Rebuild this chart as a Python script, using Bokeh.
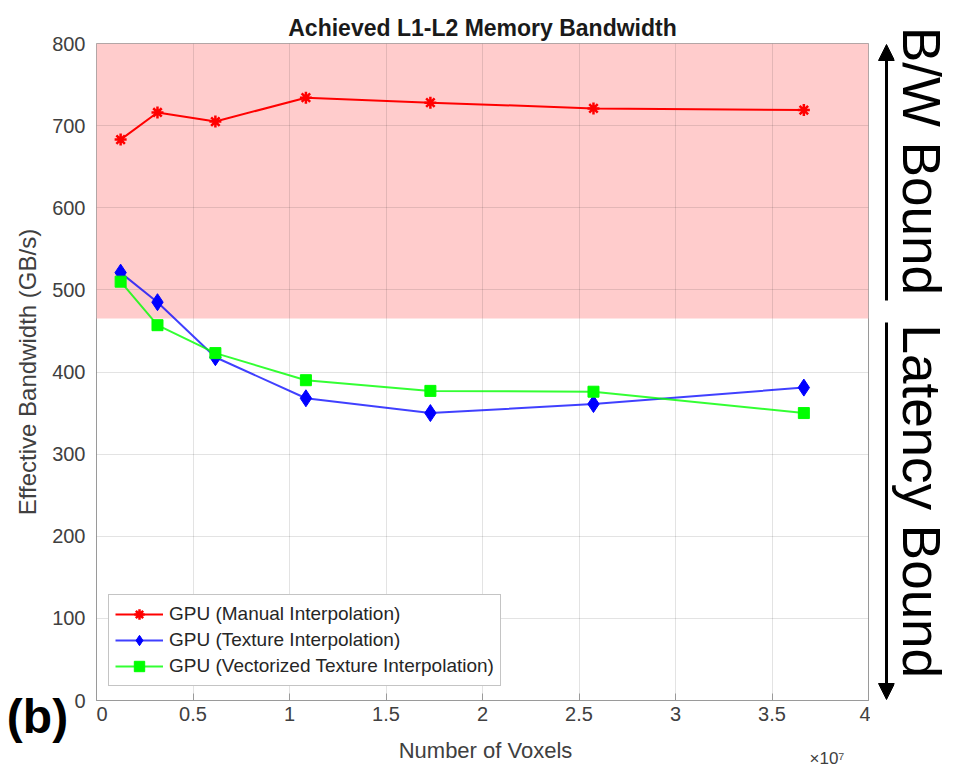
import math
from bokeh.plotting import figure
from bokeh.layouts import row
from bokeh.models import (BoxAnnotation, Label, Arrow, NormalHead, Range1d,
                          FixedTicker, Grid)
from bokeh.embed import file_html
from bokeh.resources import INLINE

# ---- data ----
voxels = [1.25e6, 3.16e6, 6.16e6, 1.085e7, 1.73e7, 2.575e7, 3.665e7]
manual = [683, 716, 705, 734, 728, 721, 719]
texture = [521, 485, 418, 368, 350, 361, 381]
vectorized = [510, 457, 423, 390, 377, 376, 350]
bw_threshold = 465
series_labels = ["GPU (Manual Interpolation)", "GPU (Texture Interpolation)",
                 "GPU (Vectorized Texture Interpolation)"]
x_ticks = [0, 5e6, 1e7, 1.5e7, 2e7, 2.5e7, 3e7, 3.5e7, 4e7]
x_tick_labels = {0: "0", 5e6: "0.5", 1e7: "1", 1.5e7: "1.5", 2e7: "2",
                 2.5e7: "2.5", 3e7: "3", 3.5e7: "3.5", 4e7: "4"}
y_ticks = [0, 100, 200, 300, 400, 500, 600, 700, 800]
regime_labels = ["B/W Bound", "Latency Bound"]

FONT = "Liberation Sans"
AX = "#9a9a9a"
TXT = "#404040"
H = 771

yr = Range1d(0, 800)

# ---------------- left strip: y axis, y label, "(b)" ----------------
L = figure(width=96, height=H, output_backend="svg", toolbar_location=None,
           x_range=Range1d(0, 1), y_range=yr, x_axis_location=None,
           min_border_left=95, min_border_right=0, min_border_top=43,
           min_border_bottom=71, outline_line_color=None)
for g in L.select(type=Grid):
    g.visible = False
ya = L.yaxis[0]
ya.ticker = FixedTicker(ticks=y_ticks)
ya.axis_line_color = None
ya.major_tick_out = 0
ya.major_tick_in = 0
ya.minor_tick_line_color = None
ya.major_label_text_font = FONT
ya.major_label_text_font_size = "20px"
ya.major_label_text_color = TXT
ya.major_label_standoff = 10
ya.axis_label = "Effective Bandwidth (GB/s)"
ya.axis_label_text_font = FONT
ya.axis_label_text_font_size = "24px"
ya.axis_label_text_font_style = "normal"
ya.axis_label_text_color = TXT
ya.axis_label_standoff = 8
L.add_layout(Label(x=37, y=716, x_units="canvas", y_units="canvas", text="(b)",
                   text_align="center", text_baseline="middle", text_font=FONT,
                   text_font_size="48px", text_font_style="bold",
                   text_color="black"), "below")

# ---------------- main plot ----------------
p = figure(width=774, height=H, output_backend="svg", toolbar_location=None,
           x_range=Range1d(0, 4e7), y_range=yr, y_axis_location=None,
           min_border_left=0, min_border_right=2, min_border_top=43,
           min_border_bottom=71)
p.title.text = "Achieved L1-L2 Memory Bandwidth"
p.title.align = "center"
p.title.text_font = FONT
p.title.text_font_size = "23px"
p.title.text_font_style = "bold"
p.title.text_color = "#1a1a1a"
p.title.standoff = 6
p.outline_line_color = AX

box = BoxAnnotation(bottom=bw_threshold, fill_color="#ffcccc", fill_alpha=1.0,
                    line_color=None, level="image")
p.add_layout(box)

xa = p.xaxis[0]
xa.ticker = FixedTicker(ticks=x_ticks)
xa.major_label_overrides = x_tick_labels
xa.axis_line_color = AX
xa.major_tick_line_color = AX
xa.major_tick_in = 7
xa.major_tick_out = 0
xa.minor_tick_line_color = None
xa.major_label_text_font = FONT
xa.major_label_text_font_size = "20px"
xa.major_label_text_color = TXT
xa.major_label_standoff = 6

ygrids = [g for g in p.select(type=Grid) if g.dimension == 1]
if ygrids:
    for g in ygrids:
        g.ticker = FixedTicker(ticks=y_ticks)
else:
    g = Grid(dimension=1, ticker=FixedTicker(ticks=y_ticks))
    p.add_layout(g)
    ygrids = [g]
p.xgrid.ticker = FixedTicker(ticks=x_ticks)
for g in list(p.xgrid) + ygrids:
    g.grid_line_color = "#262626"
    g.grid_line_alpha = 0.13

p.line(voxels, manual, line_color="#ff0000", line_width=2,
       legend_label=series_labels[0])
p.scatter(voxels, manual, marker="asterisk", size=12, line_color="#ff0000",
          line_width=2.5, legend_label=series_labels[0])
p.line(voxels, texture, line_color="#0000ff", line_width=2, line_alpha=0.75,
       legend_label=series_labels[1])
p.scatter(voxels, texture, marker="diamond", size=17, fill_color="#0000ff",
          line_color="#0000ff", legend_label=series_labels[1])
p.line(voxels, vectorized, line_color="#00ff00", line_width=2, line_alpha=0.8,
       legend_label=series_labels[2])
p.scatter(voxels, vectorized, marker="square", size=11, fill_color="#00ff00",
          line_color="#00ff00", legend_label=series_labels[2])

lg = p.legend[0]
lg.location = (12, 14)
lg.label_text_font = FONT
lg.label_text_font_size = "19px"
lg.label_text_color = "#262626"
lg.border_line_color = "#8a8a8a"
lg.border_line_width = 1
lg.background_fill_alpha = 1.0
lg.padding = 6
lg.spacing = 0
lg.glyph_width = 48
lg.glyph_height = 26
lg.label_height = 26
lg.label_standoff = 6
lg.margin = 0

# texts below the x axis (canvas px of this figure: page x - 96)
p.add_layout(Label(x=389, y=750, x_units="canvas", y_units="canvas",
                   text="Number of Voxels", text_align="center",
                   text_baseline="middle", text_font=FONT,
                   text_font_size="22px", text_color=TXT), "below")
p.add_layout(Label(x=713, y=758, x_units="canvas", y_units="canvas",
                   text="×10⁷", text_align="left", text_baseline="alphabetic",
                   text_font=FONT, text_font_size="17px", text_color=TXT),
             "below")

# ---------------- right strip: arrows and regime labels ----------------
# frame of this strip is aligned with the main frame (page y 43..700);
# arrows use screen units relative to the strip's frame (left = page x 870,
# bottom = page y 700)
R = figure(width=83, height=H, output_backend="svg", toolbar_location=None,
           x_range=Range1d(0, 1), y_range=Range1d(0, 1),
           x_axis_location=None, y_axis_location=None, min_border_left=0,
           min_border_right=0, min_border_top=43, min_border_bottom=71,
           outline_line_color=None)
for g in R.select(type=Grid):
    g.visible = False
R.add_layout(Arrow(x_start=16, y_start=400, x_end=16, y_end=656,
                   start_units="screen", end_units="screen", line_width=3,
                   line_color="black",
                   end=NormalHead(size=16, fill_color="black", line_color="black")))
R.add_layout(Arrow(x_start=16, y_start=378, x_end=16, y_end=1,
                   start_units="screen", end_units="screen", line_width=3,
                   line_color="black",
                   end=NormalHead(size=16, fill_color="black", line_color="black")))
R.add_layout(Label(x=51, y=352, x_units="canvas", y_units="canvas",
                   text=regime_labels[0] + "\u00a0\u00a0" + regime_labels[1],
                   angle=-math.pi / 2, text_align="center",
                   text_baseline="middle", text_font=FONT,
                   text_font_size="53px", text_color="black"), "right")

layout = row(L, p, R)
open("out.html", "w").write(file_html(layout, INLINE))
